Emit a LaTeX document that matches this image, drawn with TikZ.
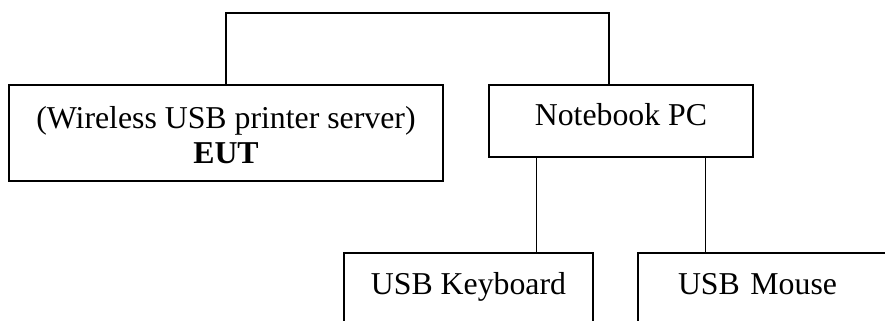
\documentclass[tikz,border=0pt]{standalone}
\usepackage{fontspec}
\setmainfont{Liberation Serif}
\begin{document}
\begin{tikzpicture}[x=0.5pt,y=-0.5pt, line width=0.7pt,
  every node/.style={font=\fontsize{15.9}{17.5}\selectfont},
  unit/.style={draw, inner sep=0pt, text height=11pt, text depth=6pt}]
  \clip (0,0) rectangle (885,321);
  % UNITS
  % EUT
  \node[unit, minimum width=217pt, minimum height=48pt, align=center,
        text height=30pt, text depth=0pt] (eut) at (226,133)
        {(Wireless USB printer server)\\\textbf{EUT}};
  % notebook
  \node[unit, minimum width=132pt, minimum height=36pt] (nb) at (621,121)
        {Notebook PC};
  % keyboard
  \node[unit, minimum width=124.5pt, minimum height=36pt] (kb) at (468.5,289)
        {USB Keyboard};
  % mouse (runs off the page)
  \node[unit, minimum width=132pt, minimum height=36pt, text width=92pt,
        inner xsep=20pt, align=left] (ms) at (770,289)
        {USB Mouse};

  % CABLES
  \coordinate (top) at (609,13);
  \draw (eut.north) |- (top) -- (top |- nb.north);
  \draw ([xshift=24pt]nb.south west) -- ([xshift=24pt]nb.south west |- kb.north);
  \draw ([xshift=-24pt]nb.south east) -- ([xshift=-24pt]nb.south east |- ms.north);
\end{tikzpicture}
\end{document}
